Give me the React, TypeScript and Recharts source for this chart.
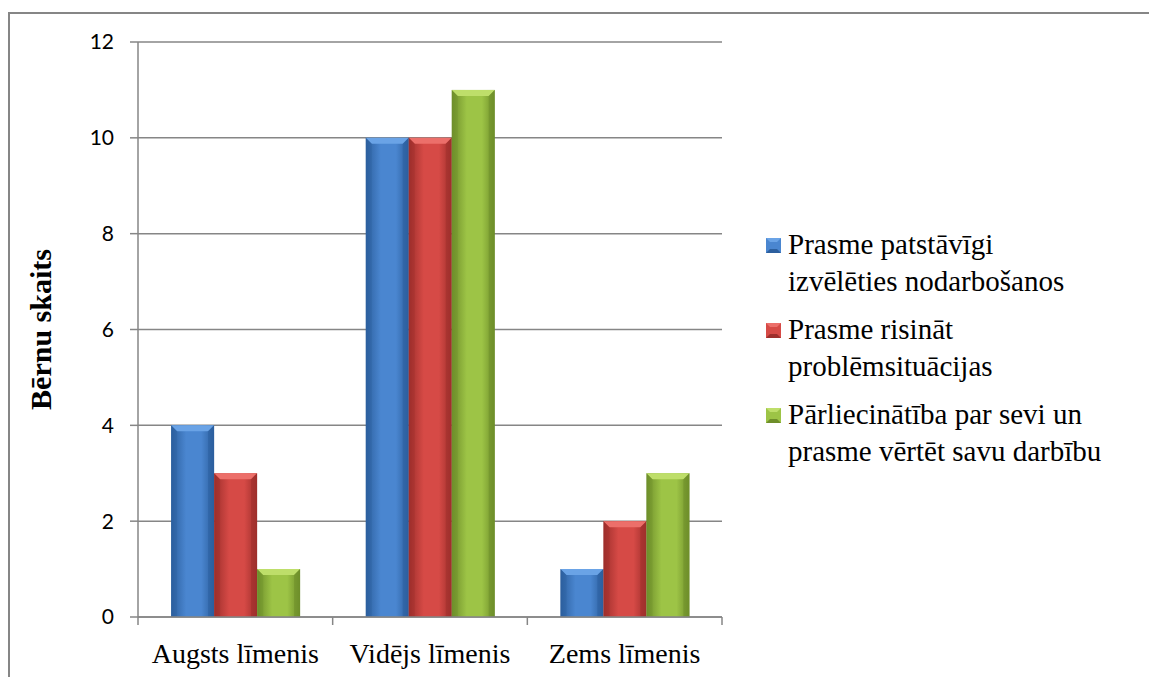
import React from "react"
import { BarChart, Bar, XAxis, YAxis, CartesianGrid } from "recharts"

const categories = ["Augsts līmenis", "Vidējs līmenis", "Zems līmenis"]
const seriesNames = [
  ["Prasme patstāvīgi", "izvēlēties nodarbošanos"],
  ["Prasme risināt", "problēmsituācijas"],
  ["Pārliecinātība par sevi un", "prasme vērtēt savu darbību"],
]
const choiceValues = [4, 10, 1]
const problemValues = [3, 10, 2]
const confidenceValues = [1, 11, 3]
const yTicks = [0, 2, 4, 6, 8, 10, 12]

const data = categories.map((name, i) => ({
  name,
  choice: choiceValues[i],
  problem: problemValues[i],
  confidence: confidenceValues[i],
}))

const W = 1149
const H = 677
const X_AXIS_H = 30
const M = { top: 42, right: 427, bottom: 60 - X_AXIS_H, left: 0 }
const Y_AXIS_W = 138
const PLOT_W = W - M.left - M.right - Y_AXIS_W
const BAND = PLOT_W / categories.length
const AXIS = "#868686"
const SERIF = "'Liberation Serif', 'Times New Roman', serif"

const palette = [
  { id: "blue", edge: "#2c5f9e", mid: "#4a86d0", top: "#6aa3e6" },
  { id: "red", edge: "#9e2f2c", mid: "#d64a46", top: "#ec6f6a" },
  { id: "green", edge: "#6e8e2a", mid: "#9dc446", top: "#bede6a" },
]

const BevelBar = (props: any) => {
  const { x, y, width, height, colorId } = props
  if (!height || height <= 0) return null
  const c = palette.find((p) => p.id === colorId)!
  const b = Math.min(6, height / 2)
  return (
    <g>
      <rect x={x} y={y} width={width} height={height} fill={`url(#grad-${c.id})`} />
      <polygon
        points={`${x},${y} ${x + width},${y} ${x + width - b},${y + b} ${x + b},${y + b}`}
        fill={c.top}
      />
      <polygon points={`${x},${y} ${x + b},${y + b} ${x + b},${y + height} ${x},${y + height}`} fill={c.edge} opacity={0.35} />
      <polygon
        points={`${x + width},${y} ${x + width - b},${y + b} ${x + width - b},${y + height} ${x + width},${y + height}`}
        fill={c.edge}
        opacity={0.55}
      />
    </g>
  )
}

const CategoryTick = (props: any) => {
  const { x, y, payload, index } = props
  const left = x - BAND / 2
  return (
    <g>
      <line x1={left} y1={y} x2={left} y2={y + 8} stroke={AXIS} strokeWidth={1.5} />
      {index === categories.length - 1 && (
        <line x1={left + BAND} y1={y} x2={left + BAND} y2={y + 8} stroke={AXIS} strokeWidth={1.5} />
      )}
      <text x={x} y={y + 46} textAnchor="middle" fontFamily={SERIF} fontSize={28} fill="#000">
        {payload.value}
      </text>
    </g>
  )
}

const LegendSwatch = ({ c }: { c: (typeof palette)[number] }) => (
  <svg width={15} height={15} style={{ marginTop: 12, flex: "none" }}>
    <rect x={0} y={0} width={15} height={15} fill={c.mid} />
    <polygon points="0,0 15,0 11,4 4,4" fill={c.top} />
    <polygon points="0,15 15,15 11,11 4,11" fill={c.edge} />
  </svg>
)

export default function App() {
  return (
    <div style={{ position: "absolute", left: 0, top: 0, width: W, height: H, background: "#fff", overflow: "hidden" }}>
      <div
        style={{
          position: "absolute",
          left: 8,
          top: 12,
          width: W,
          height: H,
          borderLeft: `2px solid ${AXIS}`,
          borderTop: `2px solid ${AXIS}`,
        }}
      />
      <BarChart width={W} height={H} data={data} margin={M} barCategoryGap="17%" barGap={0}>
        <defs>
          {palette.map((c) => (
            <linearGradient key={c.id} id={`grad-${c.id}`} x1="0" y1="0" x2="1" y2="0">
              <stop offset="0%" stopColor={c.edge} />
              <stop offset="35%" stopColor={c.mid} />
              <stop offset="70%" stopColor={c.mid} />
              <stop offset="100%" stopColor={c.edge} />
            </linearGradient>
          ))}
        </defs>
        <CartesianGrid horizontal vertical={false} stroke={AXIS} strokeWidth={1.5} />
        <XAxis
          dataKey="name"
          height={X_AXIS_H}
          stroke={AXIS}
          strokeWidth={1.5}
          tickLine={false}
          tickSize={0}
          tickMargin={0}
          tick={<CategoryTick />}
          interval={0}
        />
        <YAxis
          width={Y_AXIS_W}
          domain={[0, 12]}
          ticks={yTicks}
          stroke={AXIS}
          strokeWidth={1.5}
          tickSize={8}
          tickMargin={16}
          tick={{ fontFamily: "Lato, 'Open Sans', sans-serif", fontSize: 21, fill: "#000" }}
          label={(p: any) => {
            const vb = p.viewBox
            const cx = 40
            const cy = vb.y + vb.height / 2
            return (
              <text
                x={cx}
                y={cy}
                transform={`rotate(-90, ${cx}, ${cy})`}
                textAnchor="middle"
                dominantBaseline="central"
                fontFamily={SERIF}
                fontWeight="bold"
                fontSize={30}
                fill="#000"
              >
                Bērnu skaits
              </text>
            )
          }}
        />
        <Bar dataKey="choice" isAnimationActive={false} shape={<BevelBar colorId="blue" />} />
        <Bar dataKey="problem" isAnimationActive={false} shape={<BevelBar colorId="red" />} />
        <Bar dataKey="confidence" isAnimationActive={false} shape={<BevelBar colorId="green" />} />
      </BarChart>
      <div
        style={{
          position: "absolute",
          left: 766,
          top: 226,
          width: 383,
          fontFamily: SERIF,
          fontSize: 29,
          lineHeight: "37px",
          color: "#000",
        }}
      >
        {seriesNames.map((lines, i) => (
          <div key={i} style={{ display: "flex", gap: 7, marginBottom: 11 }}>
            <LegendSwatch c={palette[i]} />
            <div style={{ whiteSpace: "nowrap" }}>
              {lines.map((l) => (
                <div key={l}>{l}</div>
              ))}
            </div>
          </div>
        ))}
      </div>
    </div>
  )
}
